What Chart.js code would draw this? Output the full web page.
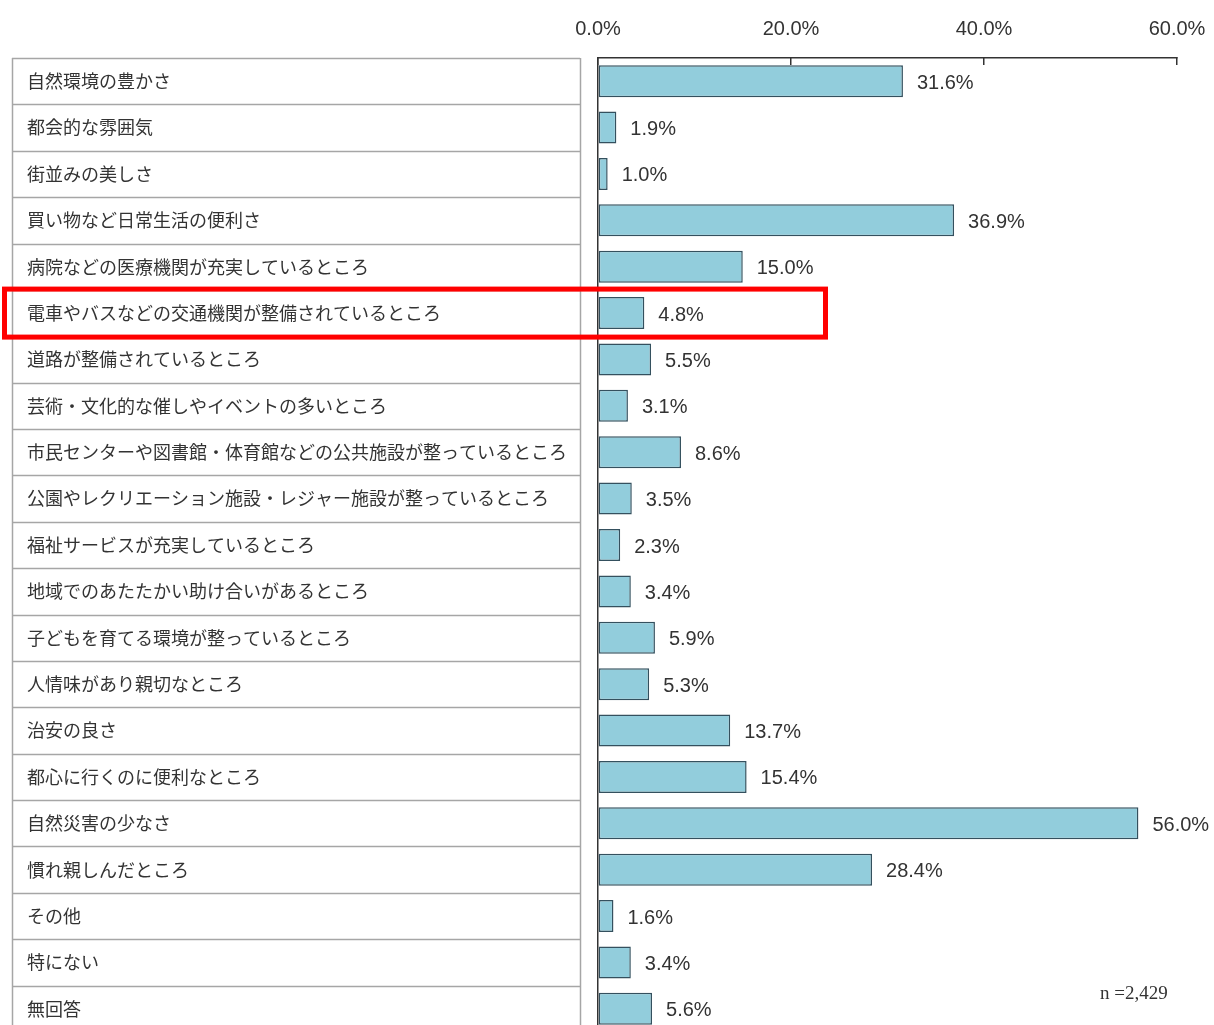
<!DOCTYPE html>
<html lang="ja">
<head>
<meta charset="utf-8">
<title>住みよいと感じる理由</title>
<script src="https://cdn.jsdelivr.net/npm/chart.js@4/dist/chart.umd.min.js"></script>
<style>
  html, body { margin: 0; padding: 0; background: #fff; overflow: hidden; }
  #wrap { position: relative; width: 1214px; height: 1025px; overflow: hidden; }
  #chart-reasons { display: block; }
  #n-note {
    position: absolute; left: 1100px; top: 982px;
    font: 19px "Liberation Serif", "DejaVu Serif", serif; color: #333;
  }
</style>
</head>
<body>
<div id="wrap">
  <canvas id="chart-reasons" width="1214" height="1032"></canvas>
  <div id="n-note">n =2,429</div>
</div>
<script>
'use strict';

// ── Data ───────────────────────────────────────────────────────
const CATEGORIES = [
  '自然環境の豊かさ',
  '都会的な雰囲気',
  '街並みの美しさ',
  '買い物など日常生活の便利さ',
  '病院などの医療機関が充実しているところ',
  '電車やバスなどの交通機関が整備されているところ',
  '道路が整備されているところ',
  '芸術・文化的な催しやイベントの多いところ',
  '市民センターや図書館・体育館などの公共施設が整っているところ',
  '公園やレクリエーション施設・レジャー施設が整っているところ',
  '福祉サービスが充実しているところ',
  '地域でのあたたかい助け合いがあるところ',
  '子どもを育てる環境が整っているところ',
  '人情味があり親切なところ',
  '治安の良さ',
  '都心に行くのに便利なところ',
  '自然災害の少なさ',
  '慣れ親しんだところ',
  'その他',
  '特にない',
  '無回答',
];

const VALUES = [
  31.6, 1.9, 1.0, 36.9, 15.0, 4.8, 5.5, 3.1, 8.6, 3.5, 2.3,
  3.4, 5.9, 5.3, 13.7, 15.4, 56.0, 28.4, 1.6, 3.4, 5.6,
];

const X_TICKS = [0, 20, 40, 60];
const HIGHLIGHT_INDEX = 5;

const BAR_FILL   = '#92cddc';
const BAR_EDGE   = '#34505e';
const TEXT_COLOR = '#333333';
const TABLE_LINE = '#a6a6a6';
const NUM_FONT   = '"Liberation Sans", Arial, sans-serif';

// ── Plugins ────────────────────────────────────────────────────
// label table on the left: outer box + one cell per category
const labelTable = {
  id: 'labelTable',
  beforeDraw(chart) {
    const { ctx, chartArea } = chart;
    const step = (chartArea.bottom - chartArea.top) / CATEGORIES.length;
    ctx.save();
    ctx.strokeStyle = TABLE_LINE;
    ctx.lineWidth = 1.5;
    for (let i = 0; i <= CATEGORIES.length; i++) {
      const yy = Math.round(chartArea.top + i * step) + 0.5;
      ctx.beginPath();
      ctx.moveTo(12, yy);
      ctx.lineTo(580, yy);
      ctx.stroke();
    }
    ctx.beginPath();
    ctx.moveTo(12.5, chartArea.top);
    ctx.lineTo(12.5, chartArea.bottom);
    ctx.moveTo(580.5, chartArea.top);
    ctx.lineTo(580.5, chartArea.bottom);
    ctx.stroke();
    ctx.restore();
  },
};

// value labels just right of each bar
const valueLabels = {
  id: 'valueLabels',
  afterDatasetsDraw(chart) {
    const { ctx } = chart;
    const meta = chart.getDatasetMeta(0);
    ctx.save();
    ctx.font = '20px ' + NUM_FONT;
    ctx.fillStyle = TEXT_COLOR;
    ctx.textAlign = 'left';
    ctx.textBaseline = 'middle';
    meta.data.forEach((bar, i) => {
      ctx.fillText(VALUES[i].toFixed(1) + '%', bar.x + 14, bar.y + 2);
    });
    ctx.restore();
  },
};

// red frame around the highlighted row
const highlightRow = {
  id: 'highlightRow',
  afterDraw(chart) {
    const { ctx, scales: { y } } = chart;
    const yc = y.getPixelForValue(HIGHLIGHT_INDEX);
    ctx.save();
    ctx.strokeStyle = '#ff0000';
    ctx.lineWidth = 5;
    ctx.strokeRect(4.5, yc - 24, 821, 48);
    ctx.restore();
  },
};

// ── Chart ──────────────────────────────────────────────────────
new Chart(document.getElementById('chart-reasons'), {
  type: 'bar',
  data: {
    labels: CATEGORIES,
    datasets: [{
      data: VALUES,
      backgroundColor: BAR_FILL,
      borderColor: BAR_EDGE,
      borderWidth: 1.5,
      borderSkipped: false,
      barPercentage: 0.69,
      categoryPercentage: 1,
    }],
  },
  options: {
    indexAxis: 'y',
    responsive: false,
    animation: false,
    layout: { padding: { left: 27, right: 37, top: 0, bottom: 0 } },
    plugins: { legend: { display: false }, tooltip: { enabled: false } },
    scales: {
      x: {
        position: 'top',
        min: 0, max: 60,
        afterBuildTicks: scale => { scale.ticks = X_TICKS.map(v => ({ value: v })); },
        afterFit: scale => {
          scale.height = 58;
          scale.paddingLeft = 0;
          scale.paddingRight = 0;
        },
        ticks: {
          callback: v => Number(v).toFixed(1) + '%',
          font: { family: NUM_FONT, size: 20 },
          color: TEXT_COLOR,
          padding: 24,
          maxRotation: 0,
        },
        grid: { drawOnChartArea: false, tickLength: -7, color: '#333', lineWidth: 1.5 },
        border: { color: '#333', width: 1.5 },
      },
      y: {
        afterFit: scale => {
          scale.width = 571;
          scale.paddingTop = 0;
          scale.paddingBottom = 0;
        },
        ticks: {
          crossAlign: 'far',
          font: { family: '"Noto Sans CJK JP", sans-serif', size: 18 },
          color: TEXT_COLOR,
          autoSkip: false,
        },
        grid: { display: false },
        border: { color: '#333', width: 1.5 },
      },
    },
  },
  plugins: [labelTable, valueLabels, highlightRow],
});
</script>
</body>
</html>
